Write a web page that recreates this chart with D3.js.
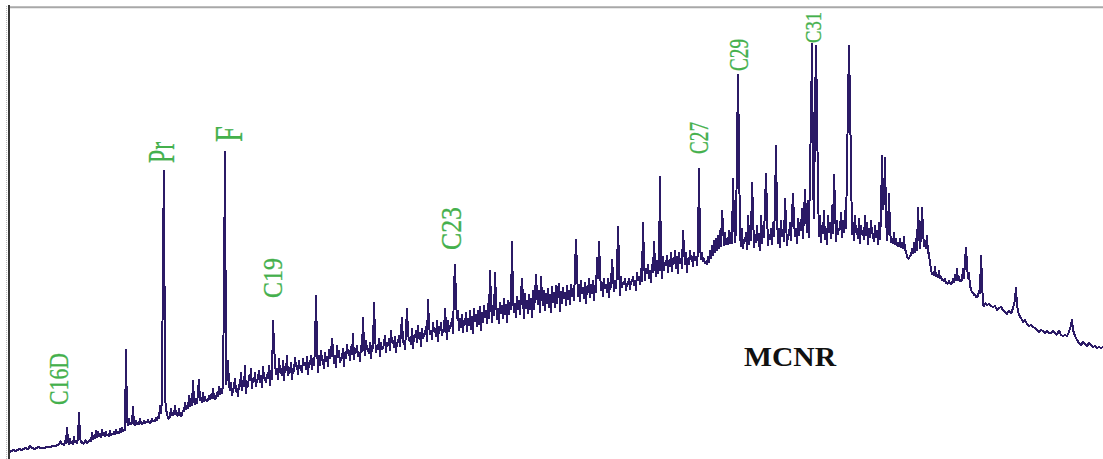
<!DOCTYPE html>
<html>
<head>
<meta charset="utf-8">
<script src="https://cdn.jsdelivr.net/npm/d3@7"></script>
<style>
  html, body { margin: 0; padding: 0; background: #fff; }
  svg { display: block; }
</style>
</head>
<body>
<svg id="chart" width="1103" height="459"></svg>
<script>
// Total ion chromatogram: [retention (scan), abundance]
const trace = [
  [10,7],[13,9],[16,8],[19,10],[22,9],[25,11],[28,10],[30,13],[32,11],[35,10],[38,12],[41,11],[44,11],[47,12],[50,12],[53,13],[56,13],[59,15],[61,18],[62,14],[63,16],[64,13],[65,19],[66,15],[67,32],[68,19],[69,14],[70,21],[71,15],[72,18],[73,14],[74,23],[75,16],[76,19],[77,15],[78,21],[79,47],[80,22],[81,16],[82,17],[84,15],[85,19],[87,16],[88,17],[90,19],[91,17],[92,27],[93,19],[94,24],[95,20],[96,29],[97,21],[98,28],[99,22],[100,26],[101,21],[102,30],[103,23],[104,27],[105,22],[106,28],[107,23],[108,25],[109,22],[110,29],[111,23],[112,26],[113,24],[114,28],[115,24],[116,30],[117,25],[118,28],[119,25],[120,31],[121,26],[122,32],[123,27],[124,30],[125,28],[126,110],[127,39],[128,33],[129,41],[130,34],[131,36],[132,35],[133,53],[134,35],[135,33],[136,39],[137,34],[138,37],[139,34],[140,41],[141,35],[142,36],[143,35],[144,39],[145,35],[146,38],[147,36],[148,40],[149,36],[150,37],[151,36],[152,41],[153,37],[154,39],[155,37],[156,42],[157,38],[158,43],[159,40],[160,54],[161,45],[162,61],[163,212],[164,289],[165,64],[166,48],[167,47],[168,40],[169,41],[170,42],[171,51],[172,43],[173,45],[174,44],[175,54],[176,45],[177,44],[178,43],[179,51],[180,44],[181,42],[182,45],[183,49],[184,47],[185,57],[186,49],[187,54],[188,50],[189,64],[190,52],[191,61],[192,53],[193,79],[194,59],[195,54],[196,61],[197,55],[198,67],[199,80],[200,58],[201,61],[202,56],[203,67],[204,57],[205,63],[206,58],[207,59],[208,58],[209,64],[210,59],[211,65],[212,60],[213,71],[214,61],[215,59],[216,61],[217,67],[218,62],[219,73],[220,64],[221,71],[222,65],[223,74],[224,172],[225,308],
  [226,74],[227,81],[228,99],[229,74],[230,68],[231,77],[232,63],[233,69],[234,72],[235,81],[236,67],[237,71],[238,62],[239,75],[240,72],[241,87],[242,68],[243,79],[244,72],[245,94],[246,65],[247,76],[248,72],[249,84],[250,78],[251,91],[252,70],[253,81],[254,77],[255,87],[256,72],[257,79],[258,80],[259,89],[260,76],[261,84],[262,71],[263,93],[264,81],[265,81],[266,76],[267,85],[268,80],[269,94],[270,73],[271,89],[272,79],[273,139],[274,114],[275,97],
  [276,84],[277,91],[278,79],[279,101],[280,87],[281,87],[282,83],[283,99],[284,78],[285,93],[286,88],[287,104],[288,83],[289,87],[290,87],[291,97],[292,79],[293,91],[294,87],[295,102],[296,92],[297,94],[298,84],[299,99],[300,90],[301,91],[302,86],[303,101],[304,93],[305,97],[306,89],[307,103],[308,84],[309,97],[310,94],[311,104],[312,89],[313,101],[314,93],[315,111],[316,164],[317,114],
  [318,86],[319,104],[320,93],[321,109],[322,99],[323,99],[324,90],[325,107],[326,97],[327,103],[328,92],[329,110],[330,100],[331,105],[332,121],[333,109],[334,95],[335,104],[336,91],[337,114],[338,101],[339,109],[340,96],[341,101],[342,100],[343,111],[344,92],[345,107],[346,100],[347,115],[348,105],[349,109],[350,98],[351,113],[352,104],[353,126],[354,99],[355,111],[356,106],[357,114],[358,102],[359,107],[360,97],[361,114],[362,107],[363,142],[364,114],
  [365,103],[366,119],[367,110],[368,109],[369,105],[370,117],[371,100],[372,114],[373,110],[374,157],[375,124],[376,106],[377,114],[378,109],[379,121],[380,102],[381,117],[382,109],[383,111],[384,115],[385,124],[386,106],[387,117],[388,113],[389,121],[390,108],[391,129],[392,116],[393,119],[394,111],[395,123],[396,106],[397,117],[398,116],[399,124],[400,112],[401,127],[402,142],
  [403,116],[404,119],[405,109],[406,129],[407,151],[408,127],[409,118],[410,121],[411,114],[412,131],[413,110],[414,124],[415,121],[416,129],[417,116],[418,134],[419,120],[420,127],[421,112],[422,131],[423,120],[424,125],[425,125],[426,133],[427,117],[428,160],[429,134],[430,124],[431,129],[432,119],[433,137],[434,127],[435,131],[436,122],[437,139],[438,117],[439,133],[440,128],[441,137],[442,123],[443,129],[444,127],[445,151],[446,134],[447,119],[448,139],[449,127],[450,133],[451,133],[452,141],[453,125],[454,171],[455,195],[456,159],
  [457,140],[458,149],[459,128],[460,141],[461,131],[462,145],[463,126],[464,139],[465,134],[466,147],[467,127],[468,141],[469,133],[470,149],[471,129],[472,143],[473,125],[474,151],[475,137],[476,145],[477,132],[478,149],[479,134],[480,153],[481,128],[482,147],[483,136],[484,154],[485,141],[486,149],[487,135],[488,156],[489,140],[490,189],[491,159],[492,136],[493,154],[494,143],[495,187],[496,159],[497,139],[498,151],[499,135],[500,157],[501,145],[502,154],[503,140],[504,161],[505,144],[506,155],[507,136],[508,159],[509,144],[510,157],[511,149],[512,218],[513,161],
  [514,146],[515,156],[516,141],[517,163],[518,149],[519,159],[520,144],[521,164],[522,181],[523,161],[524,140],[525,166],[526,150],[527,159],[528,145],[529,165],[530,149],[531,161],[532,141],[533,169],[534,149],[535,163],[536,185],[537,165],[538,154],[539,169],[540,146],[541,183],[542,163],[543,153],[544,169],[545,148],[546,166],[547,155],[548,171],[549,151],[550,165],[551,146],[552,173],[553,156],[554,167],[555,151],[556,174],[557,155],[558,169],[559,176],[560,147],[561,168],[562,155],[563,172],[564,160],[565,167],[566,153],[567,174],[568,159],[569,169],[570,154],[571,175],[572,162],[573,171],[574,158],[575,189],[576,220],[577,189],
  [578,162],[579,175],[580,157],[581,179],[582,165],[583,172],[584,160],[585,177],[586,155],[587,173],[588,166],[589,181],[590,161],[591,175],[592,165],[593,179],[594,158],[595,174],[596,166],[597,202],[598,180],[599,218],[600,189],[601,168],[602,177],[603,162],[604,181],[605,170],[606,175],[607,166],[608,181],[609,161],[610,177],[611,171],[612,200],[613,184],[614,167],[615,179],[616,170],[617,187],[618,233],[619,197],[620,163],[621,183],[622,171],[623,177],[624,175],[625,181],[626,168],[627,176],[628,174],[629,181],[630,169],[631,178],[632,177],[633,183],[634,173],[635,179],[636,168],[637,187],[638,178],[639,183],[640,174],[641,191],[642,177],[643,237],[644,199],
  [645,178],[646,191],[647,185],[648,195],[649,180],[650,189],[651,176],[652,195],[653,186],[654,218],[655,194],[656,182],[657,199],[658,185],[659,191],[660,283],[661,197],[662,180],[663,203],[664,188],[665,197],[666,193],[667,204],[668,186],[669,199],[670,192],[671,207],[672,187],[673,201],[674,195],[675,209],[676,190],[677,203],[678,185],[679,207],[680,195],[681,201],[682,190],[683,229],[684,211],[685,194],[686,207],[687,186],[688,201],[689,194],[690,209],[691,199],[692,203],[693,192],[694,207],[695,198],[696,203],[697,193],[698,211],[699,291],[700,214],
  [701,199],[702,207],[703,197],[704,201],[705,195],[706,197],[707,194],[708,203],[709,196],[710,209],[711,200],[712,214],[713,203],[714,219],[715,206],[716,221],[717,208],[718,224],[719,210],[720,229],[721,212],[722,249],[723,234],[724,213],[725,227],[726,214],[727,221],[728,214],[729,229],[730,215],[731,227],[732,215],[733,281],[734,239],[735,216],[736,229],[737,308],[738,385],[739,308],
  [740,224],[741,212],[742,231],[743,210],[744,219],[745,217],[746,227],[747,209],[748,244],[749,214],[750,234],[751,218],[752,277],[753,249],[754,211],[755,221],[756,216],[757,234],[758,219],[759,217],[760,208],[761,244],[762,215],[763,234],[764,221],[765,254],[766,286],[767,249],[768,213],[769,224],[770,219],[771,231],[772,214],[773,237],[774,222],[775,254],[776,314],[777,244],[778,215],[779,231],[780,211],[781,239],[782,222],[783,227],[784,217],[785,261],[786,239],[787,213],[788,224],[789,223],[790,237],[791,218],[792,244],[793,266],[794,239],[795,222],[796,231],[797,215],[798,241],[799,223],[800,237],[801,228],[802,251],[803,220],[804,244],[805,270],[806,244],[807,226],[808,259],[809,221],[810,291],[811,339],[812,416],[813,279],[814,240],[815,349],[816,414],[817,349],
  [818,269],[819,222],[820,244],[821,216],[822,234],[823,225],[824,249],[825,219],[826,231],[827,214],[828,244],[829,226],[830,237],[831,220],[832,254],[833,225],[834,285],[835,254],[836,217],[837,239],[838,224],[839,231],[840,229],[841,247],[842,221],[843,239],[844,226],[845,249],[846,230],[847,294],[848,356],[849,414],[850,356],[851,294],
  [852,224],[853,237],[854,218],[855,244],[856,226],[857,229],[858,220],[859,241],[860,215],[861,234],[862,224],[863,227],[864,219],[865,244],[866,223],[867,237],[868,214],[869,231],[870,221],[871,239],[872,226],[873,224],[874,217],[875,234],[876,221],[877,229],[878,214],[879,237],[880,219],[881,244],[882,304],[883,249],[884,259],[885,302],[886,244],
  [887,218],[888,229],[889,266],[890,231],[891,216],[892,219],[893,215],[894,227],[895,214],[896,221],[897,213],[898,214],[899,212],[900,221],[901,211],[902,217],[903,210],[904,223],[905,208],[906,209],[907,202],[908,201],[909,200],[910,204],[911,203],[912,211],[913,205],[914,217],[915,206],[916,221],[917,208],[918,252],[919,227],[920,210],[921,224],[922,252],[923,229],[924,212],[925,219],[926,210],[927,224],[928,206],[929,206],[930,195],[931,191],[932,184],[933,187],[934,183],[935,193],[936,182],[937,184],[938,181],[939,189],[940,180],[941,183],[942,179],[943,179],[944,177],[945,181],[946,176],[947,176],[948,175],[949,179],[950,175],[951,176],[952,175],[953,181],[954,176],[955,185],[956,178],[957,191],[958,178],[959,183],[960,177],[961,179],[962,178],[963,191],[964,180],[965,197],[966,212],[967,194],[968,180],[969,187],[970,172],[971,171],[972,166],[973,167],[974,164],[975,164],[976,162],[977,163],[978,162],[979,169],[980,165],[981,204],[982,179],[983,154],[984,152],[985,156],[987,154],[989,155],[991,153],[993,152],[995,153],[997,149],[999,151],[1001,152],[1003,149],[1005,147],[1007,145],[1009,149],[1011,145],[1013,151],[1015,159],[1016,172],[1017,154],[1019,144],[1021,141],[1023,137],[1025,139],[1027,135],[1029,133],[1031,134],[1033,132],[1035,131],[1037,129],[1039,127],[1041,129],[1043,128],[1045,126],[1047,128],[1049,126],[1051,126],[1053,128],[1055,126],[1057,124],[1059,129],[1061,124],[1063,123],[1065,124],[1067,123],[1069,127],[1071,134],[1072,140],[1073,129],[1075,123],[1077,119],[1079,116],[1081,114],[1083,117],[1085,115],[1087,113],[1089,116],[1091,114],[1093,112],[1095,113],[1097,111],[1099,112],[1101,111],[1103,112]
];

// Peak identifications
const peakNames = ["C16D", "Pr", "F", "C19", "C23", "C27", "C29", "C31"];
// Label anchor (retention, abundance at the foot of the rotated label)
const labelRetention = [59, 161, 228.5, 272.5, 450, 699, 738.5, 813.5];
const labelAbundance = [54, 296, 317, 161, 209, 305, 388, 416];

// Hump annotation
const humpLabel = "MCNR";
const humpRetention = 744;
const humpAbundance = 93;

// Label typography (vertical extent and glyph size of each label)
const labelLengths = [52, 21, 16, 40, 43, 32, 32, 31];
const labelSizes = [27, 38, 40, 28, 30, 27, 28, 23];

const W = 1103, H = 459;
const svg = d3.select("#chart");

const x = d3.scaleLinear().domain([10, 1103]).range([10, 1103]);
const y = d3.scaleLinear().domain([0, 452]).range([H, 7]);

// Frame
svg.append("line")
  .attr("x1", 6.5).attr("x2", 6.5).attr("y1", 6).attr("y2", H)
  .attr("stroke", "#b8b8b8").attr("stroke-width", 1).attr("stroke-dasharray", "1,1");
svg.append("line")
  .attr("x1", 9).attr("x2", 9).attr("y1", 5).attr("y2", H)
  .attr("stroke", "#383838").attr("stroke-width", 2);
svg.append("line")
  .attr("x1", 10).attr("x2", W).attr("y1", 7.3).attr("y2", 7.3)
  .attr("stroke", "#a8a8a8").attr("stroke-width", 2);

// Chromatogram trace, drawn aliased like a plotter trace
const line = d3.line().x(d => x(d[0])).y(d => y(d[1]));
svg.append("path")
  .datum(trace)
  .attr("d", line)
  .attr("fill", "none")
  .attr("stroke", "#2b1a66")
  .attr("stroke-width", 2)
  .attr("stroke-linejoin", "bevel")
  .attr("shape-rendering", "crispEdges");

// Peak labels, rotated to read bottom to top
peakNames.forEach((name, i) => {
  svg.append("text")
    .attr("transform", `translate(${x(labelRetention[i])},${y(labelAbundance[i])}) rotate(-90)`)
    .attr("text-anchor", "start")
    .attr("dominant-baseline", "central")
    .attr("font-family", "'Liberation Serif', 'Times New Roman', serif")
    .attr("font-size", labelSizes[i])
    .attr("textLength", labelLengths[i])
    .attr("lengthAdjust", "spacingAndGlyphs")
    .attr("fill", "#44b04c")
    .attr("stroke", "#44b04c")
    .attr("stroke-width", 0.3)
    .text(name);
});

// Unresolved complex mixture annotation
svg.append("text")
  .attr("x", x(humpRetention))
  .attr("y", y(humpAbundance))
  .attr("font-family", "'Liberation Serif', 'Times New Roman', serif")
  .attr("font-weight", "bold")
  .attr("font-size", 27)
  .attr("textLength", 92)
  .attr("lengthAdjust", "spacingAndGlyphs")
  .attr("fill", "#111")
  .text(humpLabel);
</script>
</body>
</html>
